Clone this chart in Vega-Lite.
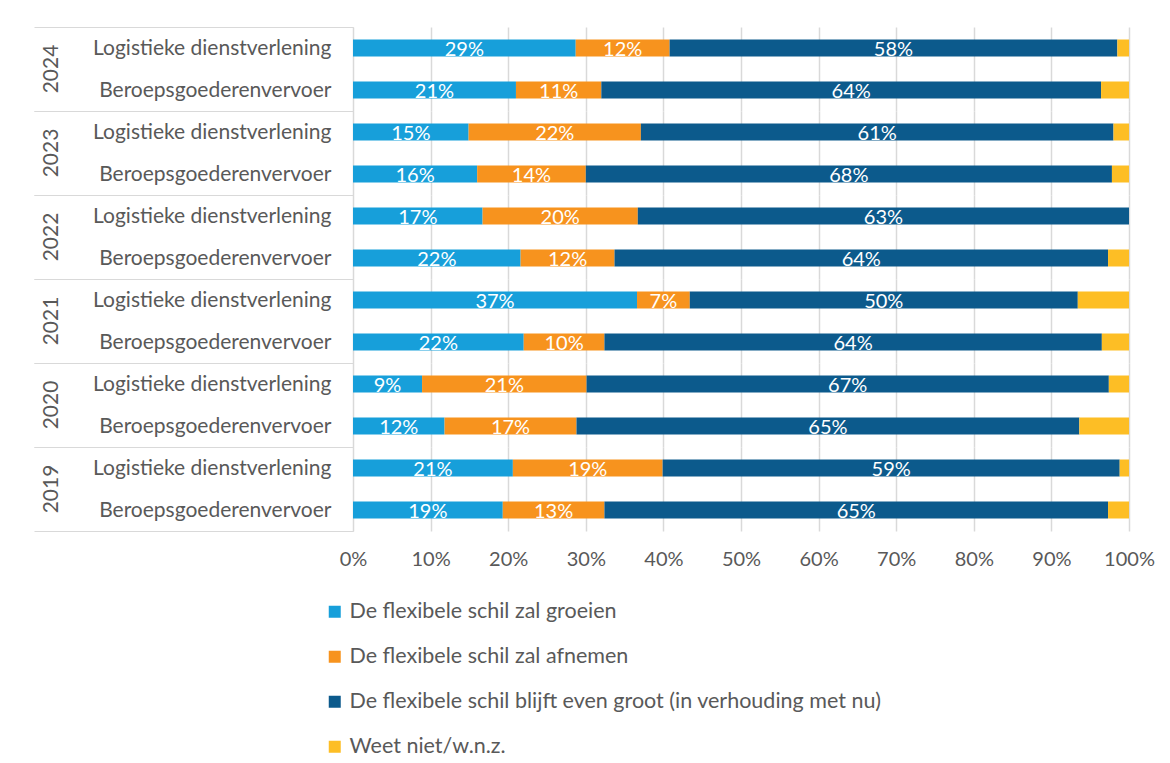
{
  "$schema": "https://vega.github.io/schema/vega-lite/v6.json",
  "padding": {"left": 33, "top": 16, "right": 10, "bottom": 5},
  "background": "white",
  "config": {
    "font": "Lato",
    "view": {"stroke": null},
    "axis": {"labelFont": "Lato"},
    "header": {"labelFont": "Lato"}
  },
  "data": {
    "values": [
      {"year": "2024", "sector": "Logistieke dienstverlening", "answer": "De flexibele schil zal groeien", "k": 1, "value": 0.287},
      {"year": "2024", "sector": "Logistieke dienstverlening", "answer": "De flexibele schil zal afnemen", "k": 2, "value": 0.121},
      {"year": "2024", "sector": "Logistieke dienstverlening", "answer": "De flexibele schil blijft even groot (in verhouding met nu)", "k": 3, "value": 0.577},
      {"year": "2024", "sector": "Logistieke dienstverlening", "answer": "Weet niet/w.n.z.", "k": 4, "value": 0.015},
      {"year": "2024", "sector": "Beroepsgoederenvervoer", "answer": "De flexibele schil zal groeien", "k": 1, "value": 0.210},
      {"year": "2024", "sector": "Beroepsgoederenvervoer", "answer": "De flexibele schil zal afnemen", "k": 2, "value": 0.110},
      {"year": "2024", "sector": "Beroepsgoederenvervoer", "answer": "De flexibele schil blijft even groot (in verhouding met nu)", "k": 3, "value": 0.644},
      {"year": "2024", "sector": "Beroepsgoederenvervoer", "answer": "Weet niet/w.n.z.", "k": 4, "value": 0.036},
      {"year": "2023", "sector": "Logistieke dienstverlening", "answer": "De flexibele schil zal groeien", "k": 1, "value": 0.149},
      {"year": "2023", "sector": "Logistieke dienstverlening", "answer": "De flexibele schil zal afnemen", "k": 2, "value": 0.222},
      {"year": "2023", "sector": "Logistieke dienstverlening", "answer": "De flexibele schil blijft even groot (in verhouding met nu)", "k": 3, "value": 0.609},
      {"year": "2023", "sector": "Logistieke dienstverlening", "answer": "Weet niet/w.n.z.", "k": 4, "value": 0.020},
      {"year": "2023", "sector": "Beroepsgoederenvervoer", "answer": "De flexibele schil zal groeien", "k": 1, "value": 0.160},
      {"year": "2023", "sector": "Beroepsgoederenvervoer", "answer": "De flexibele schil zal afnemen", "k": 2, "value": 0.140},
      {"year": "2023", "sector": "Beroepsgoederenvervoer", "answer": "De flexibele schil blijft even groot (in verhouding met nu)", "k": 3, "value": 0.678},
      {"year": "2023", "sector": "Beroepsgoederenvervoer", "answer": "Weet niet/w.n.z.", "k": 4, "value": 0.022},
      {"year": "2022", "sector": "Logistieke dienstverlening", "answer": "De flexibele schil zal groeien", "k": 1, "value": 0.167},
      {"year": "2022", "sector": "Logistieke dienstverlening", "answer": "De flexibele schil zal afnemen", "k": 2, "value": 0.200},
      {"year": "2022", "sector": "Logistieke dienstverlening", "answer": "De flexibele schil blijft even groot (in verhouding met nu)", "k": 3, "value": 0.633},
      {"year": "2022", "sector": "Logistieke dienstverlening", "answer": "Weet niet/w.n.z.", "k": 4, "value": 0.0},
      {"year": "2022", "sector": "Beroepsgoederenvervoer", "answer": "De flexibele schil zal groeien", "k": 1, "value": 0.216},
      {"year": "2022", "sector": "Beroepsgoederenvervoer", "answer": "De flexibele schil zal afnemen", "k": 2, "value": 0.121},
      {"year": "2022", "sector": "Beroepsgoederenvervoer", "answer": "De flexibele schil blijft even groot (in verhouding met nu)", "k": 3, "value": 0.636},
      {"year": "2022", "sector": "Beroepsgoederenvervoer", "answer": "Weet niet/w.n.z.", "k": 4, "value": 0.027},
      {"year": "2021", "sector": "Logistieke dienstverlening", "answer": "De flexibele schil zal groeien", "k": 1, "value": 0.366},
      {"year": "2021", "sector": "Logistieke dienstverlening", "answer": "De flexibele schil zal afnemen", "k": 2, "value": 0.068},
      {"year": "2021", "sector": "Logistieke dienstverlening", "answer": "De flexibele schil blijft even groot (in verhouding met nu)", "k": 3, "value": 0.500},
      {"year": "2021", "sector": "Logistieke dienstverlening", "answer": "Weet niet/w.n.z.", "k": 4, "value": 0.066},
      {"year": "2021", "sector": "Beroepsgoederenvervoer", "answer": "De flexibele schil zal groeien", "k": 1, "value": 0.220},
      {"year": "2021", "sector": "Beroepsgoederenvervoer", "answer": "De flexibele schil zal afnemen", "k": 2, "value": 0.104},
      {"year": "2021", "sector": "Beroepsgoederenvervoer", "answer": "De flexibele schil blijft even groot (in verhouding met nu)", "k": 3, "value": 0.641},
      {"year": "2021", "sector": "Beroepsgoederenvervoer", "answer": "Weet niet/w.n.z.", "k": 4, "value": 0.035},
      {"year": "2020", "sector": "Logistieke dienstverlening", "answer": "De flexibele schil zal groeien", "k": 1, "value": 0.089},
      {"year": "2020", "sector": "Logistieke dienstverlening", "answer": "De flexibele schil zal afnemen", "k": 2, "value": 0.212},
      {"year": "2020", "sector": "Logistieke dienstverlening", "answer": "De flexibele schil blijft even groot (in verhouding met nu)", "k": 3, "value": 0.673},
      {"year": "2020", "sector": "Logistieke dienstverlening", "answer": "Weet niet/w.n.z.", "k": 4, "value": 0.026},
      {"year": "2020", "sector": "Beroepsgoederenvervoer", "answer": "De flexibele schil zal groeien", "k": 1, "value": 0.118},
      {"year": "2020", "sector": "Beroepsgoederenvervoer", "answer": "De flexibele schil zal afnemen", "k": 2, "value": 0.170},
      {"year": "2020", "sector": "Beroepsgoederenvervoer", "answer": "De flexibele schil blijft even groot (in verhouding met nu)", "k": 3, "value": 0.648},
      {"year": "2020", "sector": "Beroepsgoederenvervoer", "answer": "Weet niet/w.n.z.", "k": 4, "value": 0.064},
      {"year": "2019", "sector": "Logistieke dienstverlening", "answer": "De flexibele schil zal groeien", "k": 1, "value": 0.206},
      {"year": "2019", "sector": "Logistieke dienstverlening", "answer": "De flexibele schil zal afnemen", "k": 2, "value": 0.193},
      {"year": "2019", "sector": "Logistieke dienstverlening", "answer": "De flexibele schil blijft even groot (in verhouding met nu)", "k": 3, "value": 0.589},
      {"year": "2019", "sector": "Logistieke dienstverlening", "answer": "Weet niet/w.n.z.", "k": 4, "value": 0.012},
      {"year": "2019", "sector": "Beroepsgoederenvervoer", "answer": "De flexibele schil zal groeien", "k": 1, "value": 0.193},
      {"year": "2019", "sector": "Beroepsgoederenvervoer", "answer": "De flexibele schil zal afnemen", "k": 2, "value": 0.131},
      {"year": "2019", "sector": "Beroepsgoederenvervoer", "answer": "De flexibele schil blijft even groot (in verhouding met nu)", "k": 3, "value": 0.649},
      {"year": "2019", "sector": "Beroepsgoederenvervoer", "answer": "Weet niet/w.n.z.", "k": 4, "value": 0.027}
    ]
  },
  "transform": [
    {"stack": "value", "groupby": ["year", "sector"], "sort": [{"field": "k"}], "as": ["v0", "v1"]}
  ],
  "facet": {
    "row": {
      "field": "year",
      "type": "ordinal",
      "sort": "descending",
      "title": null,
      "header": {
        "labelAngle": -90,
        "labelOrient": "left",
        "labelAlign": "center",
        "labelFontSize": 21,
        "labelColor": "#595959",
        "labelPadding": -39
      }
    }
  },
  "spacing": {"row": 0},
  "spec": {
    "width": 776,
    "height": 84,
    "encoding": {
      "y": {
        "field": "sector",
        "type": "nominal",
        "sort": ["Logistieke dienstverlening", "Beroepsgoederenvervoer"],
        "title": null,
        "scale": {"paddingInner": 0, "paddingOuter": 0},
        "axis": {
          "offset": 0,
          "domain": true,
          "domainColor": "#d9d9d9",
          "ticks": true,
          "tickBand": "extent",
          "tickSize": 319,
          "tickColor": {"condition": {"test": "datum.value === 'Logistieke dienstverlening'", "value": "transparent"}, "value": "#d9d9d9"},
          "labelPadding": -297,
          "labelLimit": 400,
          "labelFontSize": 21,
          "labelColor": "#595959",
          "grid": false
        }
      }
    },
    "layer": [
      {
        "mark": {"type": "bar", "size": 17},
        "encoding": {
          "x": {
            "field": "v0",
            "type": "quantitative",
            "title": null,
            "scale": {"domain": [0, 1], "nice": false},
            "axis": {
              "values": [0, 0.1, 0.2, 0.3, 0.4, 0.5, 0.6, 0.7, 0.8, 0.9, 1],
              "format": ".0%",
              "domain": false,
              "ticks": false,
              "labelFlush": false,
              "labelPadding": 18,
              "labelFontSize": 20,
              "labelColor": "#595959",
              "gridColor": "#d9d9d9",
              "gridWidth": 1.5
            }
          },
          "x2": {"field": "v1"},
          "color": {
            "field": "answer",
            "type": "nominal",
            "scale": {
              "domain": ["De flexibele schil zal groeien", "De flexibele schil zal afnemen", "De flexibele schil blijft even groot (in verhouding met nu)", "Weet niet/w.n.z."],
              "range": ["#179fda", "#f7931e", "#0c5a8c", "#fdbe25"]
            },
            "legend": {
              "orient": "none",
              "legendX": -29,
              "legendY": 574,
              "direction": "vertical",
              "title": null,
              "symbolType": "square",
              "symbolSize": 144,
              "symbolStrokeWidth": 0,
              "labelFontSize": 21.5,
              "labelColor": "#595959",
              "labelFont": "Lato",
              "labelOffset": 4,
              "rowPadding": 22,
              "labelLimit": 800
            }
          }
        }
      },
      {
        "transform": [
          {"filter": "datum.k < 4"},
          {"calculate": "(datum.v0 + datum.v1) / 2", "as": "mid"}
        ],
        "mark": {"type": "text", "color": "white", "fontSize": 20, "dy": 2, "font": "Lato"},
        "encoding": {
          "x": {"field": "mid", "type": "quantitative"},
          "text": {"field": "value", "type": "quantitative", "format": ".0%"}
        }
      }
    ]
  }
}
